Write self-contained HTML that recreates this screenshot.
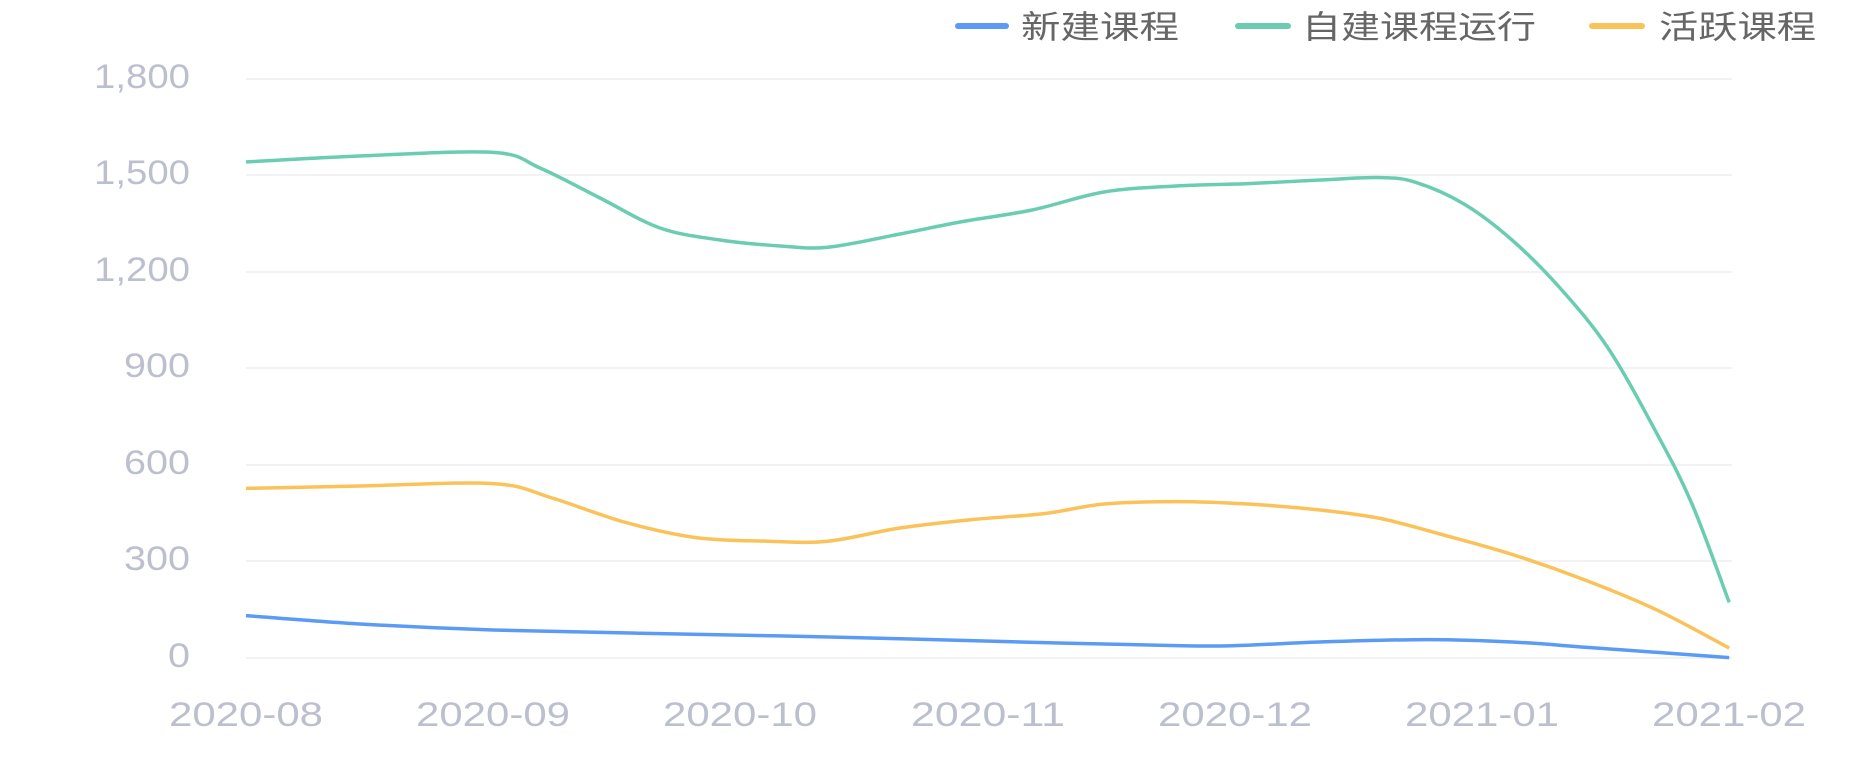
<!DOCTYPE html>
<html><head><meta charset="utf-8"><style>
html,body{margin:0;padding:0;background:#fff;width:1867px;height:779px;overflow:hidden}
svg{display:block}
text{font-family:"Liberation Sans","Noto Sans CJK SC",sans-serif}
</style></head><body>
<svg id="s" width="1867" height="779" viewBox="0 0 1867 779">
<g stroke="#f2f2f4" stroke-width="2">
<line x1="246" x2="1732" y1="79" y2="79"/><line x1="246" x2="1732" y1="175" y2="175"/>
<line x1="246" x2="1732" y1="272" y2="272"/><line x1="246" x2="1732" y1="368" y2="368"/>
<line x1="246" x2="1732" y1="465" y2="465"/><line x1="246" x2="1732" y1="561" y2="561"/>
<line x1="246" x2="1732" y1="658" y2="658"/>
</g>
<g fill="#bcc0ce" font-size="34" text-anchor="end" lengthAdjust="spacingAndGlyphs">
<text x="190" y="88" textLength="96" lengthAdjust="spacingAndGlyphs">1,800</text>
<text x="190" y="184" textLength="96" lengthAdjust="spacingAndGlyphs">1,500</text>
<text x="190" y="281" textLength="96" lengthAdjust="spacingAndGlyphs">1,200</text>
<text x="190" y="377" textLength="66" lengthAdjust="spacingAndGlyphs">900</text>
<text x="190" y="474" textLength="66" lengthAdjust="spacingAndGlyphs">600</text>
<text x="190" y="570" textLength="66" lengthAdjust="spacingAndGlyphs">300</text>
<text x="190" y="667" textLength="22" lengthAdjust="spacingAndGlyphs">0</text>
</g>
<g fill="#bcc0ce" font-size="34" text-anchor="middle">
<text x="246" y="726" textLength="154" lengthAdjust="spacingAndGlyphs">2020-08</text>
<text x="493" y="726" textLength="154" lengthAdjust="spacingAndGlyphs">2020-09</text>
<text x="740" y="726" textLength="154" lengthAdjust="spacingAndGlyphs">2020-10</text>
<text x="988" y="726" textLength="154" lengthAdjust="spacingAndGlyphs">2020-11</text>
<text x="1235" y="726" textLength="154" lengthAdjust="spacingAndGlyphs">2020-12</text>
<text x="1482" y="726" textLength="154" lengthAdjust="spacingAndGlyphs">2021-01</text>
<text x="1729" y="726" textLength="154" lengthAdjust="spacingAndGlyphs">2021-02</text>
</g>
<g stroke-width="6" stroke-linecap="round">
<line x1="958" x2="1006" y1="26" y2="26" stroke="#5b9bf5"/>
<line x1="1238" x2="1288" y1="26" y2="26" stroke="#6acdb2"/>
<line x1="1592" x2="1642" y1="26" y2="26" stroke="#fbc25a"/>
</g>
<g fill="#666" font-size="32">
<text x="1021" y="38" textLength="158" lengthAdjust="spacingAndGlyphs">新建课程</text>
<text x="1302" y="38" textLength="234" lengthAdjust="spacingAndGlyphs">自建课程运行</text>
<text x="1659" y="38" textLength="157" lengthAdjust="spacingAndGlyphs">活跃课程</text>
</g>
<path id="g" fill="none" stroke="#6acdb2" stroke-width="3.5"/>
<path id="o" fill="none" stroke="#fbc25a" stroke-width="3.5"/>
<path id="b" fill="none" stroke="#5b9bf5" stroke-width="3.5"/>
</svg>
<script>
function sm(p){p=p.map(function(a){return [a[0]*1.2,a[1]*1.2]});var d="M"+p[0][0]+","+p[0][1];
for(var i=0;i<p.length-1;i++){var p0=p[i-1]||p[i],p1=p[i],p2=p[i+1],p3=p[i+2]||p2;
d+=" C"+(p1[0]+(p2[0]-p0[0])/6)+","+(p1[1]+(p2[1]-p0[1])/6)+" "+(p2[0]-(p3[0]-p1[0])/6)+","+(p2[1]-(p3[1]-p1[1])/6)+" "+p2[0]+","+p2[1];}return d;}
document.getElementById("g").setAttribute("d",sm([[205,135],[300,130],[411,127],[450,140],[500,165],[550,190],[600,200],[650,205],[690,206],[750,195],[800,185],[860,175],[920,160],[980,155],[1040,153],[1100,150],[1150,148],[1180,152],[1220,170],[1260,200],[1300,240],[1340,290],[1380,360],[1410,420],[1441,502]]));
document.getElementById("o").setAttribute("d",sm([[205,407],[300,405],[411,403],[460,415],[520,435],[580,448],[640,451],[690,451],[750,440],[810,433],[870,428],[920,420],[980,418],[1040,420],[1100,425],[1150,432],[1200,445],[1260,462],[1320,483],[1380,508],[1441,540]]));
document.getElementById("b").setAttribute("d",sm([[205,513],[300,520],[411,525],[550,528],[700,531],[850,535],[980,538],[1030,538],[1100,535],[1190,533],[1260,535],[1330,540],[1441,548]]));
</script>
</body></html>
